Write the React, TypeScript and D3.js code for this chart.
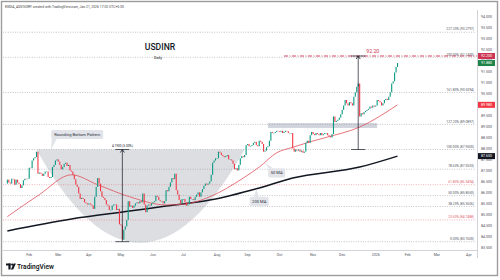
import * as d3 from "d3";
import React from "react";

const W = 500;
const H = 280;
const PLOT = { left: 3, right: 477, top: 11, bottom: 250 };

// one close per weekday, starting at firstBar (open of a bar = previous close)
const firstBar = "2025-01-13";
const firstOpen = 86.4;

const closesJan25 = [86.58, 86.45, 86.4, 86.62, 86.6, 86.35, 86.58, 86.44, 86.38, 86.2, 86.32, 86.55, 86.62, 86.6, 86.62];
const closesFeb25 = [87.12, 87.1, 87.45, 87.55, 87.6, 87.85, 86.85, 86.9, 86.85, 86.75, 86.85, 86.95, 86.95, 86.7, 86.65, 86.7, 87.15, 87.25, 87.45, 87.5];
const closesMar25 = [87.4, 87.25, 87.05, 87.15, 87.3, 87.35, 87.2, 87.25, 87.0, 86.95, 86.8, 86.6, 86.35, 86.25, 85.95, 85.7, 85.75, 85.7, 85.55, 85.5, 85.45];
const closesApr25 = [85.5, 85.45, 85.4, 85.25, 85.8, 86.25, 86.65, 86.4, 86.05, 85.8, 85.75, 85.65, 85.45, 85.4, 85.2, 85.2, 85.4, 85.45, 85.45, 85.2, 85.25, 84.55];
const closesMay25 = [84.5, 83.85, 84.3, 84.45, 84.75, 85.6, 85.35, 85.4, 85.3, 85.4, 85.5, 85.55, 85.5, 85.6, 85.55, 85.95, 85.45, 85.1, 85.4, 85.45, 85.4, 85.5];
const closesJun25 = [85.55, 85.6, 85.85, 85.8, 85.65, 85.6, 85.6, 85.5, 85.6, 86.1, 86.05, 86.25, 86.45, 86.65, 86.6, 86.85, 86.1, 85.9, 85.65, 85.5, 85.7];
const closesJul25 = [85.7, 85.55, 85.4, 85.45, 85.8, 85.7, 85.7, 85.65, 85.8, 85.9, 86.0, 85.8, 86.0, 86.15, 86.3, 86.4, 86.35, 86.4, 86.5, 86.8, 87.35, 87.45, 87.55];
const closesAug25 = [87.55, 87.85, 87.8, 87.7, 87.65, 87.6, 87.65, 87.7, 87.5, 87.5, 87.45, 87.3, 87.05, 87.1, 87.0, 87.25, 87.55, 87.65, 87.6, 87.7, 88.15];
const closesSep25 = [88.2, 88.1, 88.1, 88.15, 88.25, 88.3, 88.15, 88.1, 88.35, 88.3, 88.2, 87.85, 87.9, 88.05, 88.1, 88.35, 88.75, 88.7, 88.7, 88.75, 88.8, 88.78];
const closesOct25 = [88.75, 88.8, 88.7, 88.75, 88.8, 88.78, 88.7, 88.7, 88.7, 88.0, 87.85, 87.95, 87.9, 87.95, 87.85, 87.9, 87.8, 87.85, 88.25, 88.35, 88.25, 88.6, 88.75];
const closesNov25 = [88.65, 88.6, 88.7, 88.65, 88.6, 88.7, 88.6, 88.65, 88.7, 88.7, 88.6, 88.55, 88.5, 88.65, 89.45, 89.2, 89.25, 89.3, 89.4, 89.55];
const closesDec25 = [89.75, 89.95, 90.2, 90.05, 89.95, 90.1, 90.05, 89.95, 90.35, 90.55, 90.8, 90.95, 89.45, 89.6, 89.55, 89.65, 89.7, 89.75, 89.8, 89.9, 89.85, 89.95, 89.9];
const closesJan26 = [89.95, 90.2, 90.15, 90.1, 89.95, 90.05, 90.2, 90.25, 90.2, 90.35, 90.55, 90.95, 91.05, 91.45, 91.7, 91.88];

// moving averages
const ma50: [string, number][] = [
  ["2025-01-13", 84.9], ["2025-02-12", 85.9], ["2025-03-14", 86.8], ["2025-04-09", 86.35],
  ["2025-05-09", 85.8], ["2025-06-13", 85.43], ["2025-07-02", 85.47], ["2025-07-25", 85.8],
  ["2025-08-27", 86.65], ["2025-09-11", 87.15], ["2025-09-29", 87.8], ["2025-10-14", 88.05],
  ["2025-10-30", 88.3], ["2025-11-14", 88.5], ["2025-12-17", 88.97], ["2026-01-22", 89.98],
];
const ma200: [string, number][] = [
  ["2025-01-13", 84.25], ["2025-03-14", 84.79], ["2025-05-09", 85.15], ["2025-06-13", 85.38],
  ["2025-07-25", 85.65], ["2025-09-11", 86.2], ["2025-10-14", 86.65], ["2025-12-17", 87.15],
  ["2026-01-22", 87.65],
];

// fibonacci from the Feb high to the May low
const fibLow = 83.76;
const fibHigh = 87.95;
const fibLevels = [0, 0.236, 0.382, 0.5, 0.618, 0.786, 1, 1.272, 1.618, 2, 2.272];
const fibRedLevels = [0.236, 0.618];

const target = 92.2;
const targetFrom = "2025-10-06";

const priceTicks = [83.5, 84, 84.5, 85, 85.5, 86, 86.5, 87, 87.5, 88, 88.5, 89, 89.5, 90, 90.5, 91, 91.5, 92, 92.5, 93, 93.5, 94];
const timeTickDates = ["2025-02-01", "2025-03-01", "2025-04-01", "2025-05-01", "2025-06-01", "2025-07-01", "2025-08-01", "2025-09-01", "2025-10-01", "2025-11-01", "2025-12-01", "2026-01-01", "2026-02-01", "2026-03-01", "2026-04-01"];
const timeTickLabels = ["Feb", "Mar", "Apr", "May", "Jun", "Jul", "Aug", "Sep", "Oct", "Nov", "Dec", "2026", "Feb", "Mar", "Apr"];

const roundingArc: [string, number][] = [["2025-02-10", 87.95], ["2025-05-20", 79.47], ["2025-08-28", 87.95]];
const zone = { from: "2025-09-19", to: "2026-01-02", low: 88.93, high: 89.15 };

const FONT = "Roboto, sans-serif";
const GREEN = "#089981";
const RED = "#f23645";
const TARGET_RED = "#cc3451";

const closes = [
  closesJan25, closesFeb25, closesMar25, closesApr25, closesMay25, closesJun25, closesJul25,
  closesAug25, closesSep25, closesOct25, closesNov25, closesDec25, closesJan26,
].flat();

const days = d3
  .utcDay.range(new Date(firstBar + "T00:00:00Z"), new Date("2026-05-01T00:00:00Z"))
  .filter((d) => d.getUTCDay() !== 0 && d.getUTCDay() !== 6);
const idxOf = (s: string) => {
  const t = +new Date(s + "T00:00:00Z");
  return days.findIndex((d) => +d >= t);
};

const Callout = ({ cx, cy, tx, ty, text, w }: { cx: number; cy: number; tx: number; ty: number; text: string; w: number }) => {
  const h = 9;
  const bx = cx - w / 2;
  const by = cy - h / 2;
  // tail starts from the box edge closest to the tip
  const ex = Math.max(bx + 3, Math.min(bx + w - 3, tx));
  const ey = ty < by ? by : by + h;
  return (
    <g>
      <path d={`M${ex - 2.5},${ey}L${tx},${ty}L${ex + 2.5},${ey}Z`} fill="#e2e4e9" />
      <rect x={bx} y={by} width={w} height={h} rx={1.5} fill="#e2e4e9" />
      <text x={cx} y={cy} dy="0.35em" textAnchor="middle" fontSize={4.1} fill="#2a2e39" fontFamily={FONT}>
        {text}
      </text>
    </g>
  );
};

export default function App() {
  const x = d3.scaleLinear().domain([-3, 322.6]).range([PLOT.left, PLOT.right]);
  const y = d3.scaleLinear().domain([83.5, 94]).range([247.4, 16.4]);
  const step = x(1) - x(0);
  const bw = step * 0.75;

  const candles = closes.map((c, i) => ({ i, open: i === 0 ? firstOpen : closes[i - 1], close: c }));

  const maLine = d3
    .line<[string, number]>()
    .x((d) => x(idxOf(d[0])))
    .y((d) => y(d[1]))
    .curve(d3.curveMonotoneX);

  const fibs = fibLevels.map((l) => ({ l, p: fibLow + (fibHigh - fibLow) * l }));

  const [a0, a1, a2] = roundingArc.map(([d, p]) => [x(idxOf(d)), y(p)]);
  const arcPath = `M${a0[0]},${a0[1]}Q${a1[0]},${a1[1]} ${a2[0]},${a2[1]}Z`;

  const rulers = [
    { date: "2025-05-02", from: fibLow, to: fibHigh, label: true },
    { date: "2025-12-16", from: fibHigh, to: target, label: false },
  ];

  const lastClose = closes[closes.length - 1];
  const priceTags = [
    { v: target, bg: TARGET_RED },
    { v: lastClose, bg: "#1e8449" },
    { v: ma50[ma50.length - 1][1], bg: RED },
    { v: ma200[ma200.length - 1][1], bg: "#131722" },
  ];

  const pt = (d: string, p: number) => [x(idxOf(d)), y(p)];
  const [rbx, rby] = pt("2025-03-20", 88.63);
  const [rtx, rty] = pt("2025-02-24", 87.95);
  const [m50x, m50y] = pt("2025-09-29", 86.88);
  const [m50tx, m50ty] = pt("2025-09-17", 87.34);
  const [m200x, m200y] = pt("2025-09-11", 85.59);
  const [m200tx, m200ty] = pt("2025-09-09", 86.15);

  return (
    <svg width={W} height={H} style={{ position: "absolute", left: 0, top: 0, background: "#fff" }} fontFamily={FONT}>
      <defs>
        <clipPath id="plot">
          <rect x={PLOT.left} y={PLOT.top} width={PLOT.right - PLOT.left} height={PLOT.bottom - PLOT.top} />
        </clipPath>
      </defs>
      <rect x={0} y={0} width={W} height={H} fill="#fff" />

      <text x={5} y={7.5} fontSize={3.4} fill="#444">
        KEDIA_ADVISORY created with TradingView.com, Jan 21, 2026 17:02 UTC+5:30
      </text>

      <g clipPath="url(#plot)">
        {/* rounding bottom + resistance zone */}
        <path d={arcPath} fill="#d6d8dd" opacity={0.85} />
        <rect
          x={x(idxOf(zone.from))}
          y={y(zone.high)}
          width={x(idxOf(zone.to)) - x(idxOf(zone.from))}
          height={y(zone.low) - y(zone.high)}
          fill="#d1d4dc"
        />

        {/* fib levels */}
        {fibs.map(({ l, p }) => {
          const red = fibRedLevels.includes(l);
          return (
            <g key={l}>
              <line
                x1={PLOT.left}
                x2={PLOT.right - 1}
                y1={y(p)}
                y2={y(p)}
                stroke={red ? "#e57d86" : "#9a9da6"}
                strokeWidth={0.6}
                strokeDasharray="1,1.4"
              />
              <text x={474} y={y(p) - 1.8} textAnchor="end" fontSize={3.3} fill={red ? "#e0606b" : "#50535e"}>
                {`${(l * 100).toFixed(2)}% (${p.toFixed(4)})`}
              </text>
            </g>
          );
        })}

        {/* target line */}
        <line
          x1={x(idxOf(targetFrom))}
          x2={PLOT.right}
          y1={y(target)}
          y2={y(target)}
          stroke={TARGET_RED}
          strokeWidth={0.9}
          strokeDasharray="4,1.5,1,1.5"
        />

        {/* moving averages */}
        <path d={maLine(ma200) || ""} fill="none" stroke="#131722" strokeWidth={1.5} />
        <path d={maLine(ma50) || ""} fill="none" stroke="#e0515b" strokeWidth={0.8} />

        {/* candles */}
        {candles.map((c) => {
          const up = c.close >= c.open;
          const top = y(Math.max(c.open, c.close));
          const h = Math.max(0.5, Math.abs(y(c.open) - y(c.close)));
          return <rect key={c.i} x={x(c.i) - bw / 2} y={top} width={bw} height={h} fill={up ? GREEN : RED} />;
        })}

        {/* price range rulers */}
        {rulers.map((r) => {
          const rx = x(idxOf(r.date));
          const y0 = y(r.from);
          const y1 = y(r.to);
          return (
            <g key={r.date} stroke="#131722" strokeWidth={0.7}>
              <line x1={rx} x2={rx} y1={y0} y2={y1 + 0.5} />
              <line x1={rx - 7} x2={rx + 7} y1={y0} y2={y0} />
              <line x1={rx - 7} x2={rx + 7} y1={y1} y2={y1} />
              <path d={`M${rx - 2},${y1 + 3}L${rx},${y1}L${rx + 2},${y1 + 3}`} fill="none" strokeWidth={0.8} />
              {r.label && (
                <text x={rx} y={y1 - 2.2} textAnchor="middle" fontSize={3.1} fill="#131722" stroke="none">
                  {`${(r.to - r.from).toFixed(4)} (${(((r.to - r.from) / r.from) * 100).toFixed(2)}%)`}
                </text>
              )}
            </g>
          );
        })}
        <text x={x(idxOf("2025-12-30"))} y={y(target) - 3} textAnchor="middle" fontSize={5.2} fill={TARGET_RED}>
          {target.toFixed(2)}
        </text>

        <Callout cx={rbx} cy={rby} tx={rtx} ty={rty} text="Rounding Bottom Pattern" w={52} />
        <Callout cx={m50x} cy={m50y} tx={m50tx} ty={m50ty} text="50 MA" w={17} />
        <Callout cx={m200x} cy={m200y} tx={m200tx} ty={m200ty} text="200 MA" w={19} />

        <text x={160} y={50} textAnchor="middle" fontSize={8.6} fill="#131722" fontWeight={500}>
          USDINR
        </text>
        <text x={158} y={58.5} textAnchor="middle" fontSize={3.8} fill="#131722">
          Daily
        </text>
      </g>

      {/* axes */}
      <line x1={PLOT.right + 0.5} x2={PLOT.right + 0.5} y1={PLOT.top - 1} y2={258} stroke="#b2b5be" strokeWidth={0.6} />
      <line x1={PLOT.left} x2={PLOT.right} y1={PLOT.bottom + 0.5} y2={PLOT.bottom + 0.5} stroke="#b2b5be" strokeWidth={0.6} />
      {priceTicks.map((p) => (
        <text key={p} x={481} y={y(p)} dy="0.35em" fontSize={3.6} fill="#50535e">
          {p.toFixed(3)}
        </text>
      ))}
      {priceTags.map((t) => (
        <g key={t.bg}>
          <rect x={478} y={y(t.v) - 3} width={17} height={6} fill={t.bg} />
          <text x={486.5} y={y(t.v)} dy="0.35em" textAnchor="middle" fontSize={3.6} fill="#fff">
            {t.v.toFixed(3)}
          </text>
        </g>
      ))}
      {timeTickDates.map((d, k) => (
        <text key={d} x={x(idxOf(d))} y={255.5} textAnchor="middle" fontSize={3.6} fill="#50535e">
          {timeTickLabels[k]}
        </text>
      ))}

      {/* TradingView logo */}
      <g fill="#131722">
        <rect x={6} y={263.5} width={4.6} height={2} />
        <rect x={8.4} y={263.5} width={2.2} height={6} />
        <circle cx={12.2} cy={264.6} r={1.1} />
        <path d="M13.6,263.5L15.9,263.5L13.2,269.5L10.9,269.5Z" />
      </g>
      <text x={17} y={269.3} fontSize={6.6} fontWeight={600} fill="#131722">
        TradingView
      </text>

      <rect x={1.5} y={1.5} width={496} height={274} fill="none" stroke="#9c9c9c" strokeWidth={1.4} />
    </svg>
  );
}
